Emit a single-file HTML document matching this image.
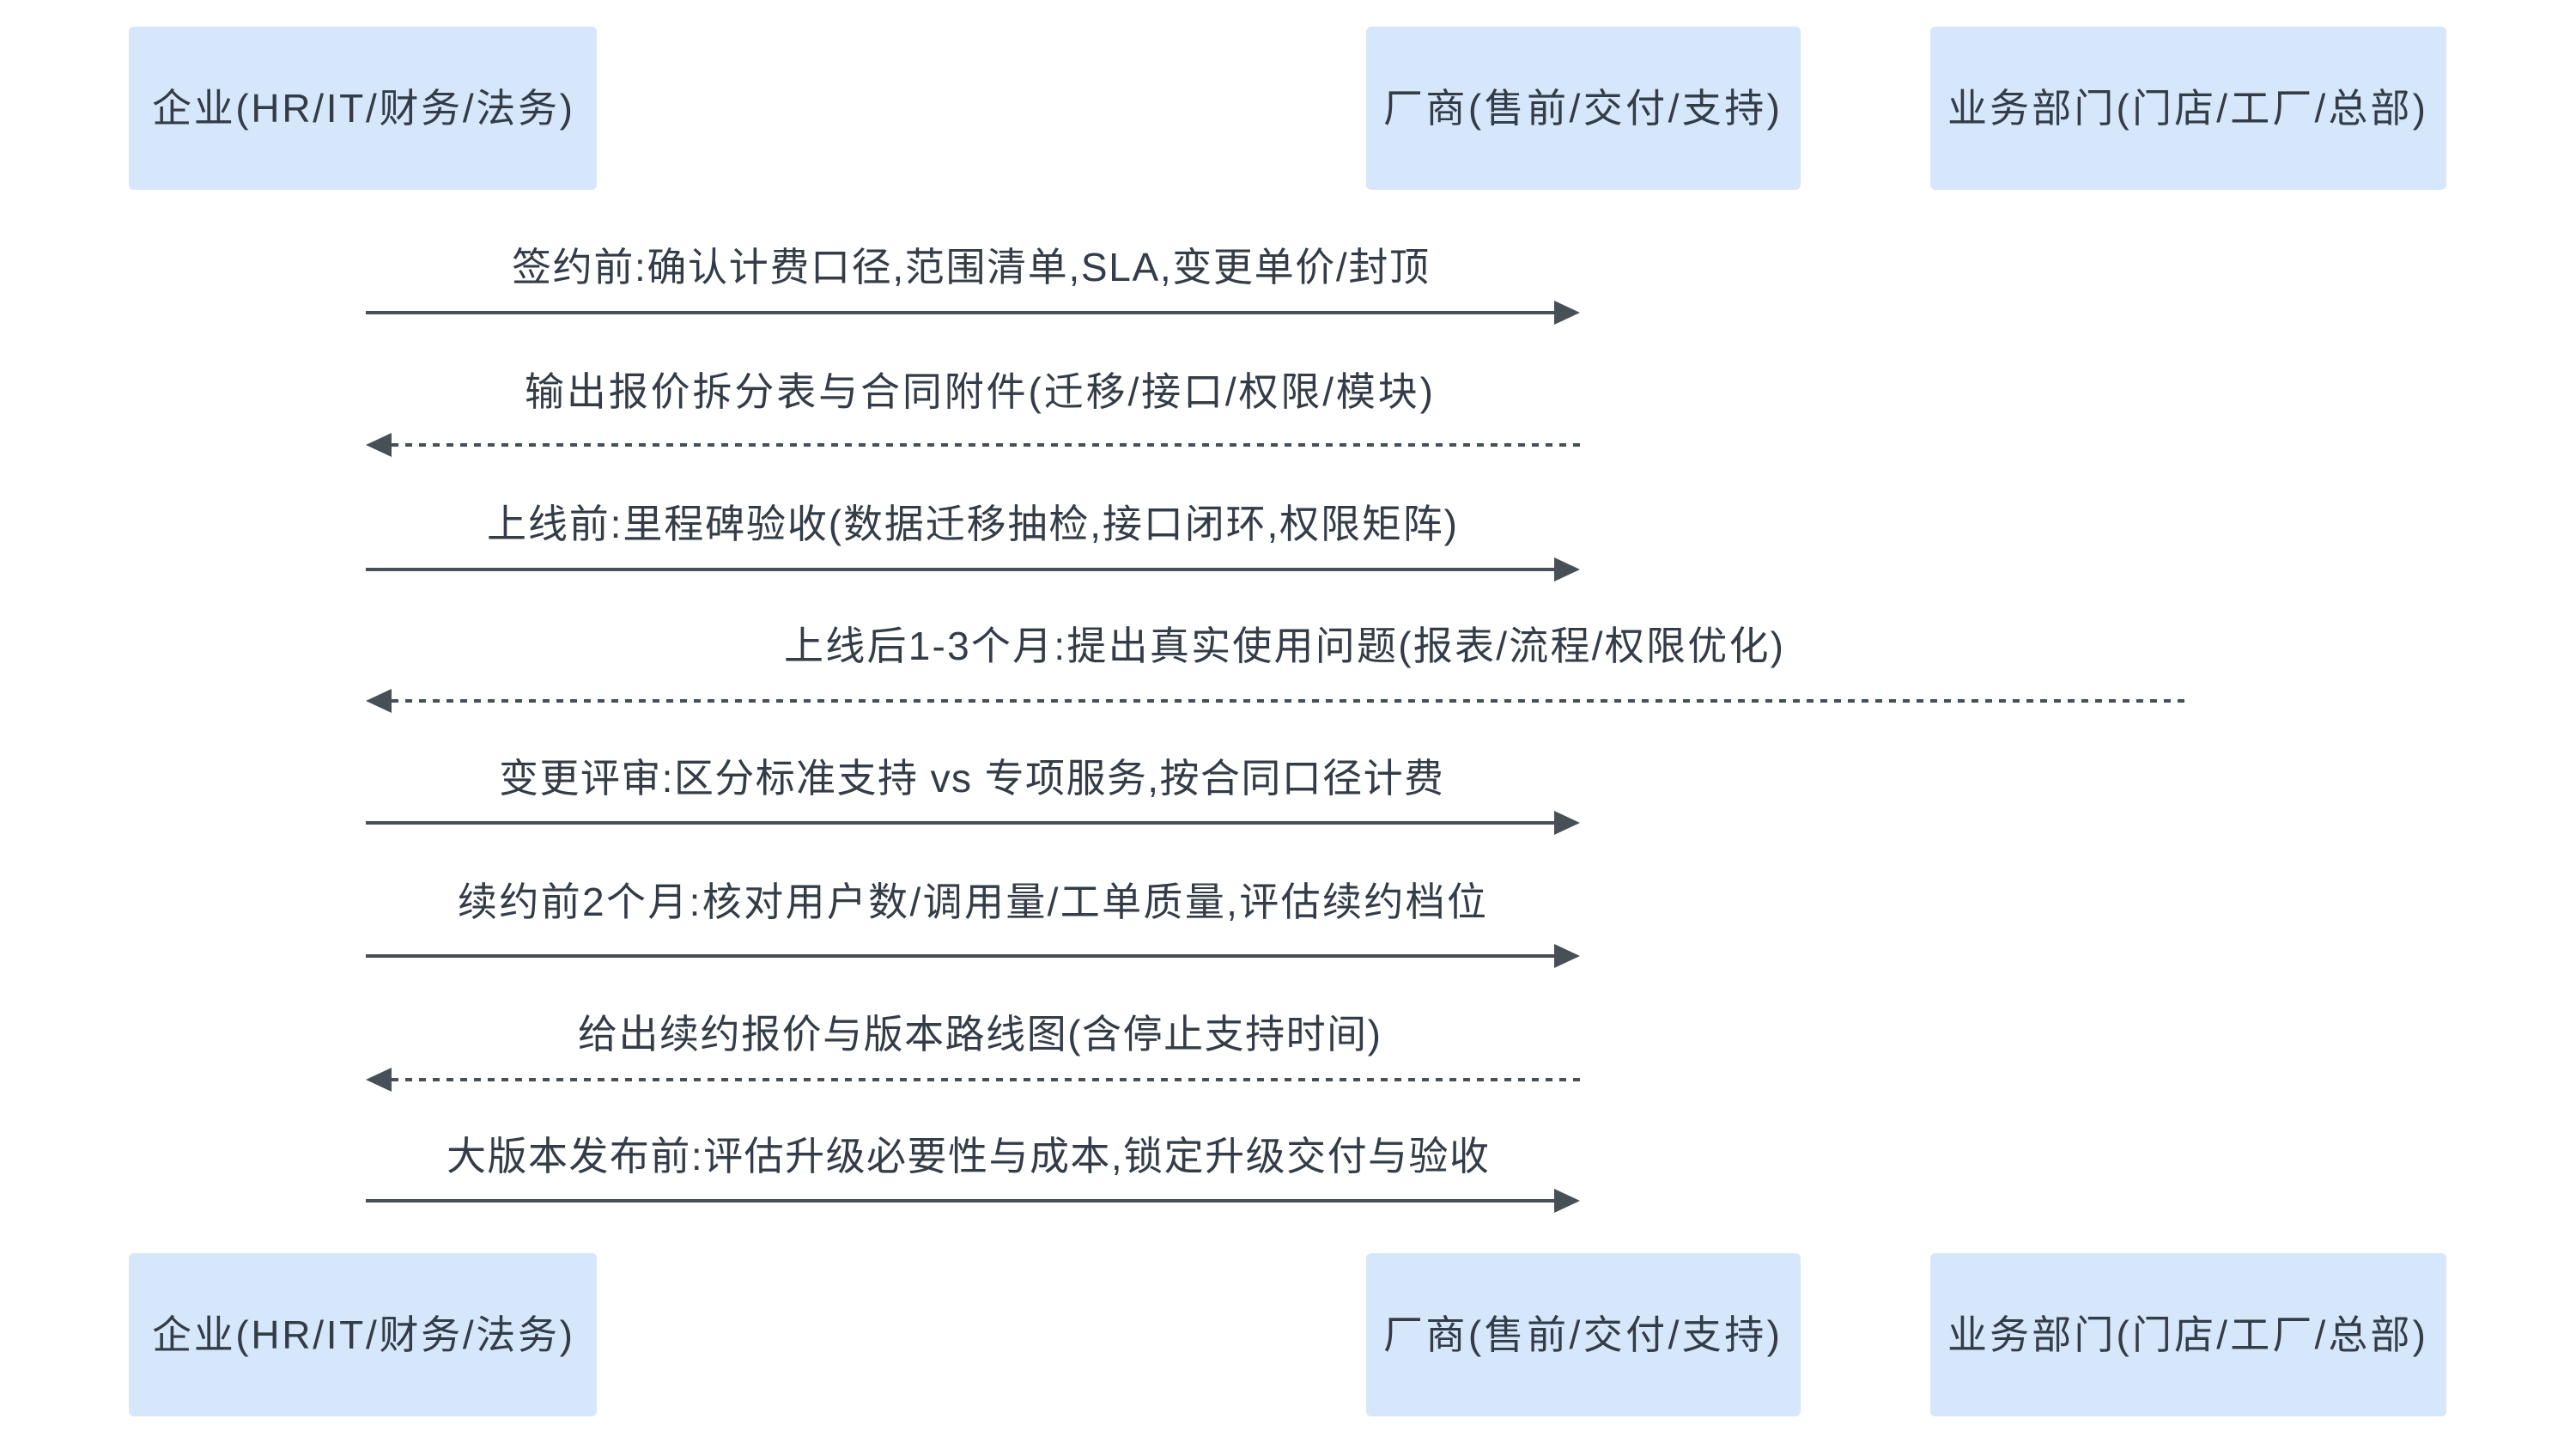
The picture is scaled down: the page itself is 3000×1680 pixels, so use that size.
<!DOCTYPE html>
<html><head><meta charset="utf-8"><style>
html,body{margin:0;padding:0;background:#fff;}
svg{display:block;}
text{font-family:"Liberation Sans","Noto Sans CJK SC",sans-serif;fill:#333c47;font-size:46px;}
</style></head><body>
<svg width="3000" height="1680" viewBox="0 0 3000 1680" xmlns="http://www.w3.org/2000/svg">
<g fill="#d6e6fb">
<rect x="150" y="31" width="545" height="190" rx="6"/>
<rect x="1591" y="31" width="506" height="190" rx="6"/>
<rect x="2248" y="31" width="601" height="190" rx="6"/>
<rect x="150" y="1459" width="545" height="190" rx="6"/>
<rect x="1591" y="1459" width="506" height="190" rx="6"/>
<rect x="2248" y="1459" width="601" height="190" rx="6"/>
</g>
<g>
<text x="177" y="142" textLength="490" lengthAdjust="spacing">企业(HR/IT/财务/法务)</text>
<text x="1611" y="142" textLength="462" lengthAdjust="spacing">厂商(售前/交付/支持)</text>
<text x="2268" y="142" textLength="557" lengthAdjust="spacing">业务部门(门店/工厂/总部)</text>
<text x="177" y="1570" textLength="490" lengthAdjust="spacing">企业(HR/IT/财务/法务)</text>
<text x="1611" y="1570" textLength="462" lengthAdjust="spacing">厂商(售前/交付/支持)</text>
<text x="2268" y="1570" textLength="557" lengthAdjust="spacing">业务部门(门店/工厂/总部)</text>

<text x="596" y="327" textLength="1068" lengthAdjust="spacing">签约前:确认计费口径,范围清单,SLA,变更单价/封顶</text>
<text x="611" y="472" textLength="1058" lengthAdjust="spacing">输出报价拆分表与合同附件(迁移/接口/权限/模块)</text>
<text x="567" y="626" textLength="1130" lengthAdjust="spacing">上线前:里程碑验收(数据迁移抽检,接口闭环,权限矩阵)</text>
<text x="913" y="768" textLength="1164" lengthAdjust="spacing">上线后1-3个月:提出真实使用问题(报表/流程/权限优化)</text>
<text x="581" y="922" textLength="1100" lengthAdjust="spacing">变更评审:区分标准支持 vs 专项服务,按合同口径计费</text>
<text x="533" y="1066" textLength="1198" lengthAdjust="spacing">续约前2个月:核对用户数/调用量/工单质量,评估续约档位</text>
<text x="673" y="1220" textLength="935" lengthAdjust="spacing">给出续约报价与版本路线图(含停止支持时间)</text>
<text x="520" y="1362" textLength="1214" lengthAdjust="spacing">大版本发布前:评估升级必要性与成本,锁定升级交付与验收</text>
</g>
<g stroke="#474f57" stroke-width="4" fill="none">
<line x1="426" y1="364" x2="1812" y2="364"/>
<line x1="456" y1="518" x2="1840" y2="518" stroke-dasharray="8 8"/>
<line x1="426" y1="663" x2="1812" y2="663"/>
<line x1="456" y1="816" x2="2545" y2="816" stroke-dasharray="8 8"/>
<line x1="426" y1="958" x2="1812" y2="958"/>
<line x1="426" y1="1113" x2="1812" y2="1113"/>
<line x1="456" y1="1257" x2="1840" y2="1257" stroke-dasharray="8 8"/>
<line x1="426" y1="1398" x2="1812" y2="1398"/>
</g>
<g fill="#474f57">
<polygon points="1810,350 1840,364 1810,378"/>
<polygon points="456,504 426,518 456,532"/>
<polygon points="1810,649 1840,663 1810,677"/>
<polygon points="456,802 426,816 456,830"/>
<polygon points="1810,944 1840,958 1810,972"/>
<polygon points="1810,1099 1840,1113 1810,1127"/>
<polygon points="456,1243 426,1257 456,1271"/>
<polygon points="1810,1384 1840,1398 1810,1412"/>
</g>
</svg>
</body></html>
